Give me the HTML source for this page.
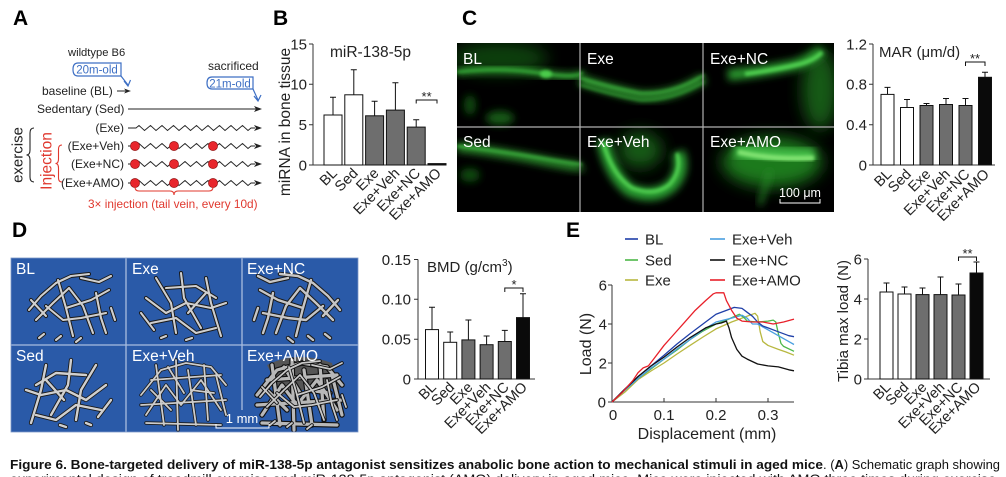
<!DOCTYPE html>
<html><head><meta charset="utf-8"><style>
html,body{margin:0;padding:0;background:#fff;}
svg{display:block;}
text{font-family:"Liberation Sans",Arial,sans-serif;}
</style></head><body>
<svg width="1006" height="477" viewBox="0 0 1006 477" xmlns="http://www.w3.org/2000/svg">
<defs>
<filter id="gb1" x="-50%" y="-50%" width="200%" height="200%"><feGaussianBlur stdDeviation="1.5"/></filter>
<filter id="gb2" x="-50%" y="-50%" width="200%" height="200%"><feGaussianBlur stdDeviation="4"/></filter>
<filter id="gb3" x="-50%" y="-50%" width="200%" height="200%"><feGaussianBlur stdDeviation="8"/></filter>
<clipPath id="cclip"><rect x="457" y="43" width="377" height="169"/></clipPath>
<clipPath id="dclip"><rect x="11" y="258" width="347" height="174"/></clipPath>
<g id="b1" fill="none" stroke-linecap="round" stroke-linejoin="round">
<path d="M18,52 L30,38 L45,25 L60,18 L78,16"/>
<path d="M25,62 L42,45 L58,30 L72,48 L82,75"/>
<path d="M47,22 L55,50 L62,78"/>
<path d="M55,50 L80,42 L98,32"/>
<path d="M35,48 L52,62 L70,60 L95,55"/>
<path d="M85,35 L90,60 L95,75"/>
<path d="M20,42 L35,58"/>
<path d="M28,80 L33,76 M45,82 L50,78 M65,84 L70,80 M100,50 L104,62"/>
<path d="M70,20 L88,24 L100,18"/>
</g>
<g id="b2" fill="none" stroke-linecap="round" stroke-linejoin="round">
<path d="M20,40 L40,55 L60,45 L85,50 L100,45"/>
<path d="M30,20 L45,45 L50,75"/>
<path d="M55,15 L58,40 L75,70"/>
<path d="M40,30 L70,28 L90,40"/>
<path d="M25,65 L50,60 L70,75 L90,70"/>
<path d="M62,55 L80,35"/>
<path d="M80,20 L85,45 L95,78"/>
<path d="M15,55 L28,72 M35,80 L40,78 M60,82 L66,80"/>
</g>
<g id="b3" fill="none" stroke-linecap="round" stroke-linejoin="round">
<path d="M15,50 L35,25 L60,18 L85,22 L100,40"/>
<path d="M20,70 L40,40 L55,60 L75,35 L95,65"/>
<path d="M30,20 L38,80"/>
<path d="M50,15 L52,85"/>
<path d="M62,25 L70,80"/>
<path d="M78,20 L82,75"/>
<path d="M90,30 L100,70"/>
<path d="M15,60 L100,55"/>
<path d="M25,35 L95,30"/>
<path d="M20,78 L95,80"/>
<path d="M42,22 L58,48 M65,45 L88,48 M25,45 L45,65"/>
</g>
</defs>

<!-- ============ PANEL A ============ -->
<text x="13" y="25" font-size="21" font-weight="bold">A</text>
<text x="68" y="56" font-size="11.2" fill="#222">wildtype B6</text>
<path d="M78,63 H121 V76 H78 Q73,76 73,69.5 Q73,63 78,63 Z" fill="none" stroke="#3d6fc4" stroke-width="1.2"/>
<text x="97" y="73.5" font-size="11.5" fill="#3d6fc4" text-anchor="middle">20m-old</text>
<path d="M121,76 L128,85 M124,81 L128,86 L130.5,80" fill="none" stroke="#3d6fc4" stroke-width="1.2"/>
<text x="208" y="70" font-size="12" fill="#222">sacrificed</text>
<path d="M212,77 H253 V89 H212 Q207,89 207,83 Q207,77 212,77 Z" fill="none" stroke="#3d6fc4" stroke-width="1.2"/>
<text x="230" y="87.5" font-size="11.5" fill="#3d6fc4" text-anchor="middle">21m-old</text>
<path d="M253,89 L258,100 M254,96 L258,101 L261,95" fill="none" stroke="#3d6fc4" stroke-width="1.2"/>

<text x="42" y="95" font-size="12" fill="#222">baseline (BL)</text>
<path d="M117,91 H127" stroke="#222" stroke-width="1"/>
<path d="M124,88.5 L131,91 L124,93.5 L126,91 Z" fill="#222"/>
<text x="37" y="113" font-size="12" fill="#222">Sedentary (Sed)</text>
<path d="M128,109 H256" stroke="#222" stroke-width="1"/>
<path d="M254,106 L262,109 L254,112 L256,109 Z" fill="#222"/>

<g font-size="12" fill="#222" text-anchor="end">
<text x="124" y="132">(Exe)</text>
<text x="124" y="150">(Exe+Veh)</text>
<text x="124" y="168">(Exe+NC)</text>
<text x="124" y="187">(Exe+AMO)</text>
</g>
<g fill="none" stroke="#222" stroke-width="0.9">
<path d="M128,128 h8 l3,-2.5 l5.5,5 l3,-2.5 l3,-2.5 l5.5,5 l3,-2.5 l3,-2.5 l5.5,5 l3,-2.5 l3,-2.5 l5.5,5 l3,-2.5 l3,-2.5 l5.5,5 l3,-2.5 l3,-2.5 l5.5,5 l3,-2.5 l3,-2.5 l5.5,5 l3,-2.5 l3,-2.5 l5.5,5 l3,-2.5 l3,-2.5 l5.5,5 l3,-2.5 l3,-2.5 l5.5,5 l3,-2.5 h4"/>
<path d="M128,146 h8 l3,-2.5 l5.5,5 l3,-2.5 l3,-2.5 l5.5,5 l3,-2.5 l3,-2.5 l5.5,5 l3,-2.5 l3,-2.5 l5.5,5 l3,-2.5 l3,-2.5 l5.5,5 l3,-2.5 l3,-2.5 l5.5,5 l3,-2.5 l3,-2.5 l5.5,5 l3,-2.5 l3,-2.5 l5.5,5 l3,-2.5 l3,-2.5 l5.5,5 l3,-2.5 l3,-2.5 l5.5,5 l3,-2.5 h4"/>
<path d="M128,164 h8 l3,-2.5 l5.5,5 l3,-2.5 l3,-2.5 l5.5,5 l3,-2.5 l3,-2.5 l5.5,5 l3,-2.5 l3,-2.5 l5.5,5 l3,-2.5 l3,-2.5 l5.5,5 l3,-2.5 l3,-2.5 l5.5,5 l3,-2.5 l3,-2.5 l5.5,5 l3,-2.5 l3,-2.5 l5.5,5 l3,-2.5 l3,-2.5 l5.5,5 l3,-2.5 l3,-2.5 l5.5,5 l3,-2.5 h4"/>
<path d="M128,183 h8 l3,-2.5 l5.5,5 l3,-2.5 l3,-2.5 l5.5,5 l3,-2.5 l3,-2.5 l5.5,5 l3,-2.5 l3,-2.5 l5.5,5 l3,-2.5 l3,-2.5 l5.5,5 l3,-2.5 l3,-2.5 l5.5,5 l3,-2.5 l3,-2.5 l5.5,5 l3,-2.5 l3,-2.5 l5.5,5 l3,-2.5 l3,-2.5 l5.5,5 l3,-2.5 l3,-2.5 l5.5,5 l3,-2.5 h4"/>
</g>
<g fill="#222">
<path d="M254,125 L262,128 L254,131 L256,128 Z"/>
<path d="M254,143 L262,146 L254,149 L256,146 Z"/>
<path d="M254,161 L262,164 L254,167 L256,164 Z"/>
<path d="M254,180 L262,183 L254,186 L256,183 Z"/>
</g>
<g fill="#e8262c" stroke="#8a1010" stroke-width="0.6">
<circle cx="135" cy="146" r="4.6"/><circle cx="174" cy="146" r="4.6"/><circle cx="213" cy="146" r="4.6"/>
<circle cx="135" cy="164" r="4.6"/><circle cx="174" cy="164" r="4.6"/><circle cx="213" cy="164" r="4.6"/>
<circle cx="135" cy="183" r="4.6"/><circle cx="174" cy="183" r="4.6"/><circle cx="213" cy="183" r="4.6"/>
</g>
<text transform="translate(22.5,155) rotate(-90)" font-size="15" text-anchor="middle" fill="#222">exercise</text>
<path d="M34,128 Q30,128 30,133 V150 Q30,155 26.5,155 Q30,155 30,160 V177 Q30,182 34,182" fill="none" stroke="#222" stroke-width="1.1"/>
<text transform="translate(51.5,161) rotate(-90)" font-size="15.5" text-anchor="middle" fill="#e0382e">Injection</text>
<path d="M62,145 Q58.5,145 58.5,149 V159 Q58.5,163.5 55.5,163.5 Q58.5,163.5 58.5,168 V178 Q58.5,182 62,182" fill="none" stroke="#e0382e" stroke-width="1.1"/>
<path d="M135,187 Q135,191 139,191 H170 Q174,191 174,195 Q174,191 178,191 H209 Q213,191 213,187" fill="none" stroke="#e0382e" stroke-width="1.1"/>
<text x="88" y="208" font-size="11.8" fill="#e0382e">3× injection (tail vein, every 10d)</text>

<!-- ============ PANEL B ============ -->
<text x="273" y="25" font-size="21" font-weight="bold">B</text>
<text transform="translate(290,122) rotate(-90)" font-size="15.5" text-anchor="middle" fill="#222">miRNA in bone tissue</text>
<g stroke="#333" stroke-width="1" fill="none">
<path d="M313,44 V165 H444"/>
<path d="M309,44 H313 M309,84.3 H313 M309,124.7 H313 M309,165 H313"/>
</g>
<g font-size="15" text-anchor="end" fill="#222">
<text x="307" y="49.5">15</text><text x="307" y="89.5">10</text><text x="307" y="130">5</text><text x="307" y="170.5">0</text>
</g>
<text x="330" y="57" font-size="15.5" fill="#222">miR-138-5p</text>
<g stroke="#111" stroke-width="1">
<path d="M333,115 V97.2 M330,97.2 H336"/>
<path d="M353.8,94.8 V69.8 M350.8,69.8 H356.8"/>
<path d="M374.6,115.8 V101.3 M371.6,101.3 H377.6"/>
<path d="M395.4,110.1 V82.7 M392.4,82.7 H398.4"/>
<path d="M416.2,127.1 V119.8 M413.2,119.8 H419.2"/>
<rect x="324" y="115" width="18" height="50" fill="#fff"/>
<rect x="344.8" y="94.8" width="18" height="70.2" fill="#fff"/>
<rect x="365.6" y="115.8" width="18" height="49.2" fill="#6e6e6e"/>
<rect x="386.4" y="110.1" width="18" height="54.9" fill="#6e6e6e"/>
<rect x="407.2" y="127.1" width="18" height="37.9" fill="#6e6e6e"/>
<rect x="428" y="163.6" width="18" height="1.4" fill="#111"/>
<path d="M416.2,103.5 V100 H437 V103.5" fill="none"/>
</g>
<text x="426.6" y="101" font-size="13" text-anchor="middle" fill="#222">**</text>
<g font-size="14.5" text-anchor="end" fill="#222">
<text transform="translate(338,174) rotate(-45)">BL</text>
<text transform="translate(358.8,174) rotate(-45)">Sed</text>
<text transform="translate(379.6,174) rotate(-45)">Exe</text>
<text transform="translate(400.4,174) rotate(-45)">Exe+Veh</text>
<text transform="translate(421.2,174) rotate(-45)">Exe+NC</text>
<text transform="translate(442,174) rotate(-45)">Exe+AMO</text>
</g>

<!-- ============ PANEL C ============ -->
<text x="462" y="25" font-size="21" font-weight="bold">C</text>
<rect x="457" y="43" width="377" height="169" fill="#000"/>
<g clip-path="url(#cclip)">
<!-- BL -->
<ellipse cx="500" cy="58" rx="48" ry="16" fill="#176a18" opacity="0.6" filter="url(#gb3)"/>
<path d="M457,72 Q500,66 540,73 T582,72" fill="none" stroke="#2a8c2c" stroke-width="7" filter="url(#gb2)"/>
<path d="M457,72 Q500,67 540,73 T582,72" fill="none" stroke="#38b03a" stroke-width="2.5" filter="url(#gb1)"/>
<ellipse cx="546" cy="74" rx="6" ry="4" fill="#4ccc4c" filter="url(#gb1)"/>
<ellipse cx="500" cy="118" rx="14" ry="7" fill="#155a16" filter="url(#gb2)"/>
<ellipse cx="470" cy="105" rx="6" ry="10" fill="#0f4a10" filter="url(#gb2)"/>
<!-- Exe -->
<path d="M580,80 Q612,90 640,96 Q672,98 704,78" fill="none" stroke="#2a8c2c" stroke-width="10" filter="url(#gb2)"/>
<path d="M580,78 Q612,88 640,93 Q672,95 704,75" fill="none" stroke="#40b842" stroke-width="2" filter="url(#gb1)"/>
<path d="M580,85 Q612,95 640,100 Q672,101 704,82" fill="none" stroke="#36a838" stroke-width="1.8" filter="url(#gb1)"/>
<!-- Exe+NC -->
<ellipse cx="820" cy="90" rx="18" ry="40" fill="#145a15" filter="url(#gb3)"/>
<path d="M728,75 Q760,72 790,66 Q810,62 822,50" fill="none" stroke="#2a9a2e" stroke-width="11" filter="url(#gb2)"/>
<path d="M745,74 Q775,70 800,64 Q815,60 822,52" fill="none" stroke="#52d452" stroke-width="4" filter="url(#gb1)"/>
<!-- Sed -->
<path d="M457,147 Q500,152 540,160 T582,166" fill="none" stroke="#2a8c2c" stroke-width="9" filter="url(#gb2)"/>
<path d="M457,146 Q500,151 540,158 T582,164" fill="none" stroke="#40b842" stroke-width="2.5" filter="url(#gb1)"/>
<ellipse cx="470" cy="175" rx="10" ry="7" fill="#0f4a10" filter="url(#gb2)"/>
<!-- Exe+Veh -->
<ellipse cx="640" cy="150" rx="22" ry="18" fill="#145a15" filter="url(#gb3)"/>
<path d="M603,140 Q610,175 630,190 Q655,200 672,185 Q685,170 678,152" fill="none" stroke="#2a9e30" stroke-width="13" filter="url(#gb2)"/>
<path d="M603,142 Q612,175 632,188 Q655,197 670,184 Q682,170 677,153" fill="none" stroke="#52d452" stroke-width="3.5" filter="url(#gb1)"/>
<!-- Exe+AMO -->
<ellipse cx="772" cy="162" rx="50" ry="25" fill="#1c7a1e" filter="url(#gb3)"/>
<path d="M735,150 Q770,158 815,156" fill="none" stroke="#42bc46" stroke-width="16" filter="url(#gb2)"/>
<path d="M738,152 Q772,160 814,158" fill="none" stroke="#82e472" stroke-width="5" filter="url(#gb1)"/>
<path d="M770,170 L760,205" fill="none" stroke="#2a8c2c" stroke-width="4" filter="url(#gb2)"/>
</g>
<g stroke="#b0b0b0" stroke-width="1.2">
<path d="M580,43 V212 M703,43 V212 M457,127 H834"/>
</g>
<g font-size="15.5" fill="#fff">
<text x="463" y="64">BL</text><text x="587" y="64">Exe</text><text x="710" y="64">Exe+NC</text>
<text x="463" y="147">Sed</text><text x="587" y="147">Exe+Veh</text><text x="710" y="147">Exe+AMO</text>
</g>
<text x="800" y="197" font-size="12.5" fill="#fff" text-anchor="middle">100 μm</text>
<path d="M780,199 V203 H820 V199" fill="none" stroke="#fff" stroke-width="1"/>

<!-- MAR -->
<g stroke="#333" stroke-width="1" fill="none">
<path d="M873,44 V165 H995"/>
<path d="M869,44 H873 M869,84.3 H873 M869,124.7 H873 M869,165 H873"/>
</g>
<g font-size="15" text-anchor="end" fill="#222">
<text x="867" y="49.5">1.2</text><text x="867" y="89.5">0.8</text><text x="867" y="130">0.4</text><text x="867" y="170.5">0</text>
</g>
<text x="879" y="57" font-size="15" fill="#222">MAR (μm/d)</text>
<g stroke="#111" stroke-width="1">
<path d="M887.5,94.4 V87.4 M884.5,87.4 H890.5"/>
<path d="M907,107.5 V99.5 M904,99.5 H910"/>
<path d="M926.5,105.5 V103.5 M923.5,103.5 H929.5"/>
<path d="M946,104.5 V98.5 M943,98.5 H949"/>
<path d="M965.5,105.5 V98.5 M962.5,98.5 H968.5"/>
<path d="M985,77.3 V72.3 M982,72.3 H988"/>
<rect x="881" y="94.4" width="13" height="70.6" fill="#fff"/>
<rect x="900.5" y="107.5" width="13" height="57.5" fill="#fff"/>
<rect x="920" y="105.5" width="13" height="59.5" fill="#6e6e6e"/>
<rect x="939.5" y="104.5" width="13" height="60.5" fill="#6e6e6e"/>
<rect x="959" y="105.5" width="13" height="59.5" fill="#6e6e6e"/>
<rect x="978.5" y="77.3" width="13" height="87.7" fill="#0a0a0a"/>
<path d="M965.5,66 V62 H985 V66" fill="none"/>
</g>
<text x="975" y="63" font-size="13" text-anchor="middle" fill="#222">**</text>
<g font-size="14.5" text-anchor="end" fill="#222">
<text transform="translate(892.5,175) rotate(-45)">BL</text>
<text transform="translate(912,175) rotate(-45)">Sed</text>
<text transform="translate(931.5,175) rotate(-45)">Exe</text>
<text transform="translate(951,175) rotate(-45)">Exe+Veh</text>
<text transform="translate(970.5,175) rotate(-45)">Exe+NC</text>
<text transform="translate(990,175) rotate(-45)">Exe+AMO</text>
</g>

<!-- ============ PANEL D ============ -->
<text x="12" y="237" font-size="21" font-weight="bold">D</text>
<rect x="11" y="258" width="347" height="174" fill="#2a5aa8"/>
<g clip-path="url(#dclip)">
<g transform="translate(11,258)">
<use href="#b1" stroke="#1a1a1a" stroke-width="4"/><use href="#b1" stroke="#cfcfcf" stroke-width="2.1"/>
</g>
<g transform="translate(126,258)">
<use href="#b2" stroke="#1a1a1a" stroke-width="4"/><use href="#b2" stroke="#cfcfcf" stroke-width="2.1"/>
</g>
<g transform="translate(358,258) scale(-1,1)">
<use href="#b1" stroke="#1a1a1a" stroke-width="4.4"/><use href="#b1" stroke="#c6c6c6" stroke-width="2.4"/>
</g>
<g transform="translate(126,345) scale(-1,1)">
<use href="#b2" stroke="#1a1a1a" stroke-width="4.2"/><use href="#b2" stroke="#cfcfcf" stroke-width="2.4"/>
</g>
<g transform="translate(126,345)">
<use href="#b3" stroke="#1a1a1a" stroke-width="3.4"/><use href="#b3" stroke="#cccccc" stroke-width="1.8"/>
</g>
<g transform="translate(242,345)">
<path d="M25,20 Q55,5 90,18 L98,45 Q70,40 40,50 Z" fill="#555"/>
<use href="#b3" stroke="#111" stroke-width="5.5"/><use href="#b3" stroke="#b8b8b8" stroke-width="3.2"/>
<use href="#b1" stroke="#111" stroke-width="3.6"/><use href="#b1" stroke="#c8c8c8" stroke-width="1.8"/>
</g>
</g>
<g stroke="#a9bde0" stroke-width="1.3">
<path d="M126,258 V432 M242,258 V410 M11,345 H358"/>
</g>
<rect x="11" y="258" width="347" height="174" fill="none" stroke="#7d98c8" stroke-width="0.8"/>
<g font-size="15.5" fill="#fff">
<text x="16" y="274">BL</text><text x="132" y="274">Exe</text><text x="247" y="274">Exe+NC</text>
<text x="16" y="361">Sed</text><text x="132" y="361">Exe+Veh</text><text x="247" y="361">Exe+AMO</text>
</g>
<text x="242" y="423" font-size="13" fill="#fff" text-anchor="middle">1 mm</text>
<path d="M216,424 V428 H269 V424" fill="none" stroke="#fff" stroke-width="1"/>

<!-- BMD -->
<g stroke="#333" stroke-width="1" fill="none">
<path d="M418,259.5 V379 H535"/>
<path d="M414,259.5 H418 M414,299.3 H418 M414,339.2 H418 M414,379 H418"/>
</g>
<g font-size="15" text-anchor="end" fill="#222">
<text x="411" y="265">0.15</text><text x="411" y="304.5">0.10</text><text x="411" y="344.5">0.05</text><text x="411" y="384.5">0</text>
</g>
<text x="427" y="272" font-size="15" fill="#222">BMD (g/cm<tspan font-size="10" dy="-6">3</tspan><tspan dy="6">)</tspan></text>
<g stroke="#111" stroke-width="1">
<path d="M432,329.6 V307.3 M429,307.3 H435"/>
<path d="M450.2,342.3 V332 M447.2,332 H453.2"/>
<path d="M468.4,339.9 V320 M465.4,320 H471.4"/>
<path d="M486.6,344.7 V336 M483.6,336 H489.6"/>
<path d="M504.8,341.5 V330.4 M501.8,330.4 H507.8"/>
<path d="M523,317.6 V293.7 M520,293.7 H526"/>
<rect x="425.5" y="329.6" width="13" height="49.4" fill="#fff"/>
<rect x="443.7" y="342.3" width="13" height="36.7" fill="#fff"/>
<rect x="461.9" y="339.9" width="13" height="39.1" fill="#6e6e6e"/>
<rect x="480.1" y="344.7" width="13" height="34.3" fill="#6e6e6e"/>
<rect x="498.3" y="341.5" width="13" height="37.5" fill="#6e6e6e"/>
<rect x="516.5" y="317.6" width="13" height="61.4" fill="#0a0a0a"/>
<path d="M504.8,292 V288 H523 V292" fill="none"/>
</g>
<text x="514" y="289" font-size="13" text-anchor="middle" fill="#222">*</text>
<g font-size="14.5" text-anchor="end" fill="#222">
<text transform="translate(437,388) rotate(-45)">BL</text>
<text transform="translate(455.2,388) rotate(-45)">Sed</text>
<text transform="translate(473.4,388) rotate(-45)">Exe</text>
<text transform="translate(491.6,388) rotate(-45)">Exe+Veh</text>
<text transform="translate(509.8,388) rotate(-45)">Exe+NC</text>
<text transform="translate(528,388) rotate(-45)">Exe+AMO</text>
</g>

<!-- ============ PANEL E ============ -->
<text x="566" y="237" font-size="21" font-weight="bold">E</text>
<g stroke-width="1.6">
<path d="M625,239 H638" stroke="#1f3fa8"/>
<path d="M625,260 H638" stroke="#4db848"/>
<path d="M625,280 H638" stroke="#b8b840"/>
<path d="M710,239 H725" stroke="#4a9fe0"/>
<path d="M710,260 H725" stroke="#111"/>
<path d="M710,280 H725" stroke="#e8202a"/>
</g>
<g font-size="15" fill="#222">
<text x="645" y="244.5">BL</text><text x="645" y="265.5">Sed</text><text x="645" y="285.5">Exe</text>
<text x="732" y="244.5">Exe+Veh</text><text x="732" y="265.5">Exe+NC</text><text x="732" y="285.5">Exe+AMO</text>
</g>
<g stroke="#333" stroke-width="1" fill="none">
<path d="M612,285 V402 H794"/>
<path d="M608,285 H612 M608,324 H612 M608,363 H612 M608,402 H612"/>
<path d="M664,402 V398 M716,402 V398 M768,402 V398"/>
</g>
<g font-size="15" text-anchor="end" fill="#222">
<text x="607" y="290.5">6</text><text x="607" y="329.5">4</text><text x="607" y="368.5">2</text><text x="606" y="407.5">0</text>
</g>
<g font-size="15" text-anchor="middle" fill="#222">
<text x="613" y="420">0</text><text x="664" y="420">0.1</text><text x="716" y="420">0.2</text><text x="768" y="420">0.3</text>
</g>
<text x="707" y="439" font-size="16" text-anchor="middle" fill="#222">Displacement (mm)</text>
<text transform="translate(591,344) rotate(-90)" font-size="16" text-anchor="middle" fill="#222">Load (N)</text>
<g fill="none" stroke-width="1.3" stroke-linejoin="round">
<polyline stroke="#b8b840" points="612,402 625,392 638,379.6 651,371 664,363 677,354 690,345.45 703,337 716,328.9 731.6,322 742,318.15 749.8,315.2 755,313.3 757.6,316.2 760.2,331.8 762.8,341.55 768,345.45 778.4,349.35 786,352 794,355.2"/>
<polyline stroke="#4db848" points="612,402 625,390 638,378.6 651,369 664,359.1 677,350 690,339.6 703,331 716,324 726.4,320.1 739.4,314.25 744.6,318.15 747.2,321.1 757.6,322 768,321.1 773.2,320.1 775.8,322 778.4,333.75 781,343.5 783.6,346.4 794,351.3"/>
<polyline stroke="#4a9fe0" points="612,402 625,390 638,378.6 651,368 664,359.1 677,349 690,339.6 703,330 716,322 731.6,318.15 742,315.2 747.2,318.15 752.4,324 757.6,324 768,329.85 778.4,335.7 788.8,341.55 794,344.5"/>
<polyline stroke="#1f3fa8" points="612,402 625,389 638,376.65 651,366 664,355.2 677,344 690,333.75 705.6,322 716,314.25 726.4,310.35 734.2,307.4 742,308.4 747.2,312.3 752.4,316.2 757.6,322 762.8,326 768,327.9 778.4,331.8 788.8,335.7 794,336.7"/>
<polyline stroke="#111" points="612,402 625,389 638,376.65 651,366 664,357.15 677,347 690,337.65 705.6,327.9 716,324 721.2,323 726.4,321.1 729,327.9 731.6,337.65 736.8,349.35 742,356.2 747.2,359.1 757.6,364 768,365.9 778.4,366.9 788.8,369.8 794,370.8"/>
<polyline stroke="#e8202a" points="612,402 622.4,392.25 632.8,380.55 638,372.75 643.2,367.9 648.4,365.9 653.6,359.1 664,345.45 674.4,333.75 684.8,322.05 695.2,310.35 705.6,300.6 713.4,293.8 716,292.8 723.8,292.8 726.4,300.6 731.6,310.35 736.8,318.15 742,321.1 752.4,322 762.8,322 773.2,324 783.6,322 794,319.1"/>
</g>

<!-- Tibia max load -->
<text transform="translate(848,321) rotate(-90)" font-size="15" text-anchor="middle" fill="#222">Tibia max load (N)</text>
<g stroke="#333" stroke-width="1" fill="none">
<path d="M868,259 V379 H990"/>
<path d="M864,259 H868 M864,299 H868 M864,339 H868 M864,379 H868"/>
</g>
<g font-size="15" text-anchor="end" fill="#222">
<text x="862" y="264.5">6</text><text x="862" y="304.5">4</text><text x="862" y="344.5">2</text><text x="862" y="384.5">0</text>
</g>
<g stroke="#111" stroke-width="1">
<path d="M886.5,292 V283 M883.5,283 H889.5"/>
<path d="M904.5,294 V287 M901.5,287 H907.5"/>
<path d="M922.5,294.6 V288 M919.5,288 H925.5"/>
<path d="M940.5,294.6 V277 M937.5,277 H943.5"/>
<path d="M958.5,295 V284 M955.5,284 H961.5"/>
<path d="M976.5,273 V262 M973.5,262 H979.5"/>
<rect x="880" y="292" width="13" height="87" fill="#fff"/>
<rect x="898" y="294" width="13" height="85" fill="#fff"/>
<rect x="916" y="294.6" width="13" height="84.4" fill="#6e6e6e"/>
<rect x="934" y="294.6" width="13" height="84.4" fill="#6e6e6e"/>
<rect x="952" y="295" width="13" height="84" fill="#6e6e6e"/>
<rect x="970" y="273" width="13" height="106" fill="#0a0a0a"/>
<path d="M958.5,261 V257 H976.5 V261" fill="none"/>
</g>
<text x="967.5" y="258" font-size="13" text-anchor="middle" fill="#222">**</text>
<g font-size="14.5" text-anchor="end" fill="#222">
<text transform="translate(891.5,388) rotate(-45)">BL</text>
<text transform="translate(909.5,388) rotate(-45)">Sed</text>
<text transform="translate(927.5,388) rotate(-45)">Exe</text>
<text transform="translate(945.5,388) rotate(-45)">Exe+Veh</text>
<text transform="translate(963.5,388) rotate(-45)">Exe+NC</text>
<text transform="translate(981.5,388) rotate(-45)">Exe+AMO</text>
</g>

<!-- ============ CAPTION ============ -->
<text y="469" font-size="13" fill="#111"><tspan x="10" font-weight="bold" textLength="813" lengthAdjust="spacingAndGlyphs">Figure 6. Bone-targeted delivery of miR-138-5p antagonist sensitizes anabolic bone action to mechanical stimuli in aged mice</tspan></text>
<text y="469" font-size="13" fill="#111"><tspan x="823" textLength="177" lengthAdjust="spacingAndGlyphs">. (<tspan font-weight="bold">A</tspan>) Schematic graph showing</tspan></text>
<text x="10" y="483.5" font-size="13" fill="#111" textLength="990" lengthAdjust="spacingAndGlyphs">experimental design of treadmill exercise and miR-138-5p antagonist (AMO) delivery in aged mice. Mice were injected with AMO three times during exercise.</text>
</svg>
</body></html>
